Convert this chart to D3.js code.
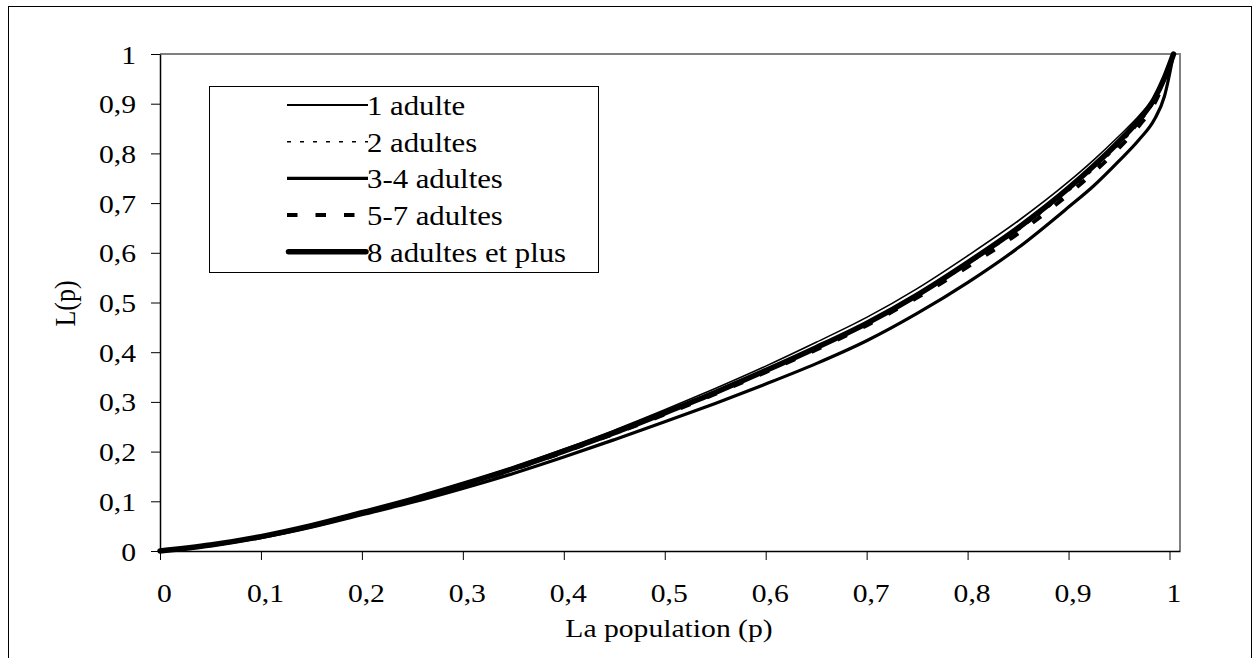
<!DOCTYPE html>
<html><head><meta charset="utf-8">
<script src="https://cdn.jsdelivr.net/npm/d3@7"></script>
<style>
body{margin:0;background:#fff}
svg{display:block}
</style>
</head><body>
<svg id="c" width="1255" height="658"></svg>
<script>
const pValues = [0,0.05,0.1,0.15,0.2,0.25,0.3,0.35,0.4,0.45,0.5,0.55,0.6,0.65,0.7,0.75,0.8,0.85,0.9,0.925,0.95,0.97,0.985,0.995,1.004];
const adulte1 = [0,0.012,0.030,0.052,0.078,0.106,0.137,0.169,0.205,0.243,0.284,0.327,0.372,0.420,0.470,0.528,0.594,0.664,0.743,0.787,0.835,0.876,0.914,0.953,1];
const adultes2 = [0,0.012,0.029,0.051,0.077,0.104,0.133,0.165,0.200,0.237,0.276,0.317,0.361,0.407,0.456,0.512,0.576,0.645,0.724,0.768,0.817,0.861,0.904,0.948,1];
const adultes34 = [0,0.011,0.027,0.048,0.073,0.098,0.126,0.156,0.189,0.224,0.260,0.297,0.336,0.377,0.423,0.478,0.540,0.610,0.692,0.735,0.785,0.828,0.868,0.915,1];
const adultes57 = [0,0.012,0.029,0.051,0.076,0.103,0.132,0.164,0.199,0.236,0.275,0.316,0.360,0.405,0.454,0.510,0.572,0.639,0.718,0.762,0.811,0.856,0.900,0.946,1];
const adultes8 = [0,0.012,0.029,0.051,0.077,0.104,0.134,0.166,0.201,0.238,0.278,0.319,0.363,0.409,0.458,0.515,0.580,0.650,0.730,0.775,0.824,0.868,0.910,0.952,1];
const seriesNames = ["1 adulte","2 adultes","3-4 adultes","5-7 adultes","8 adultes et plus"];
const xTicks = [0,0.1,0.2,0.3,0.4,0.5,0.6,0.7,0.8,0.9,1];
const yTicks = [0,0.1,0.2,0.3,0.4,0.5,0.6,0.7,0.8,0.9,1];
const xTitle = "La population (p)";
const yTitle = "L(p)";

const seriesData = [adulte1, adultes2, adultes34, adultes57, adultes8];
const styles = [
  {w:1.6, dash:null, cap:"butt"},
  {w:1.5, dash:"4,9", cap:"butt"},
  {w:3.2, dash:null, cap:"butt"},
  {w:4, dash:"10.5,18", cap:"butt"},
  {w:5.5, dash:null, cap:"round"}
];
const FONT = "'Liberation Serif', Tinos, 'Times New Roman', Times, 'Nimbus Roman', serif";

const svg = d3.select("#c");
const SX = 1.14;

// outer border
svg.append("rect").attr("x",8.5).attr("y",6.5).attr("width",1243).attr("height",720)
  .attr("fill","none").attr("stroke","#000").attr("stroke-width",1);

const x = d3.scaleLinear().domain([0,1.0104]).range([160,1180]);
const y = d3.scaleLinear().domain([0,1]).range([551,54]);
const fmt = d => String(d).replace(".", ",");

// plot border top/right (gray)
svg.append("path").attr("d",`M${x(0)},${y(1)}H${x.range()[1]}V${y(0)}`)
  .attr("fill","none").attr("stroke","#808080").attr("stroke-width",2);

// axes
const gx = svg.append("g").attr("transform",`translate(0,${y(0)})`)
  .call(d3.axisBottom(x).tickValues(xTicks).tickSize(9).tickSizeOuter(0).tickFormat(fmt));
const gy = svg.append("g").attr("transform",`translate(${x(0)},0)`)
  .call(d3.axisLeft(y).tickValues(yTicks).tickSize(9).tickSizeOuter(0).tickFormat(fmt));
[gx,gy].forEach(g=>{
  g.attr("font-family",FONT).attr("font-size",26);
  g.select(".domain").attr("stroke","#000").attr("stroke-width",1.5);
  g.selectAll(".tick line").attr("stroke","#000").attr("stroke-width",1);
  g.selectAll("text").attr("fill","#000").style("font-family",FONT).style("font-size","26px");
});
gx.selectAll(".tick text").attr("x",0).attr("y",0).attr("dy",null)
  .attr("text-anchor","middle").attr("transform",`translate(4,51) scale(${SX},1)`);
gy.selectAll(".tick text").attr("x",0).attr("y",0).attr("dy",null)
  .attr("text-anchor","end").attr("transform",`translate(-24,9) scale(${SX},1)`);

// titles
svg.append("text").attr("transform",`translate(669,637) scale(${SX},1)`)
  .attr("text-anchor","middle").style("font-family",FONT).style("font-size","26px").text(xTitle);
svg.append("text").attr("transform",`translate(75,303.5) scale(${SX},1) rotate(-90)`)
  .attr("text-anchor","middle").style("font-family",FONT).style("font-size","26px").text(yTitle);

// lines
const line = d3.line().x((d,i)=>x(pValues[i])).y(d=>y(d)).curve(d3.curveMonotoneX);
seriesData.forEach((s,k)=>{
  svg.append("path").datum(s).attr("d",line)
    .attr("fill","none").attr("stroke","#000")
    .attr("stroke-width",styles[k].w)
    .attr("stroke-dasharray",styles[k].dash)
    .attr("stroke-linecap",styles[k].cap)
    .attr("stroke-linejoin","round");
});

// legend
const lg = svg.append("g");
lg.append("rect").attr("x",209.5).attr("y",86.5).attr("width",389).attr("height",186)
  .attr("fill","#fff").attr("stroke","#000").attr("stroke-width",1);
seriesNames.forEach((n,k)=>{
  const yy = 105 + k*36.7;
  const st = styles[k];
  lg.append("line").attr("x1",st.cap==="round"?288.5:287).attr("x2",st.cap==="round"?366:368)
    .attr("y1",yy).attr("y2",yy)
    .attr("stroke","#000").attr("stroke-width",k===0?2:st.w)
    .attr("stroke-dasharray",st.dash).attr("stroke-linecap",st.cap);
  lg.append("text").attr("transform",`translate(367,${yy+10}) scale(${SX},1)`)
    .style("font-family",FONT).style("font-size","27px").text(n);
});
</script>
</body></html>
